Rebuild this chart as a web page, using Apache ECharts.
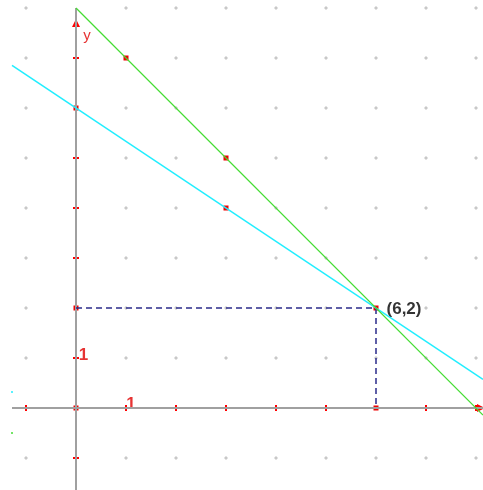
<!DOCTYPE html>
<html>
<head>
<meta charset="utf-8">
<script src="https://cdn.jsdelivr.net/npm/echarts@6/dist/echarts.min.js"></script>
<style>
  html, body { margin: 0; padding: 0; background: #fff; }
  #chart { width: 483px; height: 490px; }
</style>
</head>
<body>
<div id="chart"></div>
<script>
// lines y = 8 - x and y = 6 - 2x/3, meeting at (6,2)
const greenLine = [[0, 8], [8.14, -0.14]];
const cyanLine = [[-1.28, 6.853], [8.14, 0.573]];
const guideLine = [[0, 2], [6, 2], [6, 0]];
const keyPoints = [[1, 7], [3, 5], [0, 6], [3, 4], [0, 2], [6, 2], [6, 0], [0, 0]];
const xTicks = [-1, 1, 2, 3, 4, 5, 7, 8];
const yTicks = [-1, 1, 3, 4, 5, 7];
const xAxisLine = [[-1.28, 0], [8.14, 0]];
const yAxisLine = [[0, -1.64], [0, 8]];
const latticeX = [-1, 1, 2, 3, 4, 5, 6, 7, 8];
const latticeY = [-1, 1, 2, 3, 4, 5, 6, 7, 8];
const labels = [
  [1.1, 0.08, '1', '#e00000'],
  [0.15, 1.06, '1', '#e00000'],
  [0.22, 7.44, 'y', '#e00000'],
  [6.56, 1.98, '(6,2)', '#000000']
];

const lattice = [];
latticeX.forEach(x => latticeY.forEach(y => lattice.push([x, y])));

const dot = (color) => ({ color: color, opacity: 1 });

const chart = echarts.init(document.getElementById('chart'));
chart.setOption({
  animation: false,
  grid: { left: 0, right: 0, top: 0, bottom: 0 },
  xAxis: { type: 'value', min: -1.52, max: 8.14, show: false },
  yAxis: { type: 'value', min: -1.64, max: 8.16, show: false },
  series: [
    {
      type: 'scatter', data: lattice, symbol: 'diamond', symbolSize: 4,
      itemStyle: dot('#c8c8c8'), silent: true
    },
    {
      type: 'line', data: xAxisLine, symbol: 'none',
      lineStyle: { color: '#a0a0a0', width: 2 }
    },
    {
      type: 'line', data: yAxisLine, symbol: 'none',
      lineStyle: { color: '#a0a0a0', width: 2 }
    },
    {
      type: 'scatter', data: xTicks.map(v => [v, 0]), symbol: 'rect', symbolSize: [2, 6],
      itemStyle: dot('#ff0000')
    },
    {
      type: 'scatter', data: yTicks.map(v => [0, v]), symbol: 'rect', symbolSize: [6, 2],
      itemStyle: dot('#ff0000')
    },
    {
      type: 'line', data: guideLine, symbol: 'none',
      lineStyle: { color: '#2a2a8a', width: 1.5, type: [6, 4] }
    },
    {
      type: 'line', data: cyanLine, symbol: 'none',
      lineStyle: { color: '#22eeff', width: 1.5 }
    },
    {
      type: 'line', data: greenLine, symbol: 'none',
      lineStyle: { color: '#44dd33', width: 1.2 }
    },
    {
      type: 'scatter', data: keyPoints, symbol: 'rect', symbolSize: 5,
      itemStyle: dot('#ee0000')
    },
    {
      type: 'scatter', data: [[0, 7.7]], symbol: 'triangle', symbolSize: [8, 8],
      itemStyle: dot('#ff0000')
    },
    {
      type: 'scatter', data: [[8.1, 0]], symbol: 'triangle', symbolSize: [8, 8], symbolRotate: -90,
      itemStyle: dot('#ff0000')
    },
    {
      type: 'scatter', data: [[-1.28, 0.32]], symbolSize: 2, itemStyle: dot('#22eeff')
    },
    {
      type: 'scatter', data: [[-1.28, -0.5]], symbolSize: 2, itemStyle: dot('#44dd33')
    },
    {
      type: 'scatter', symbolSize: 0,
      data: labels.map(l => ({
        value: [l[0], l[1]],
        label: {
          show: true, position: 'inside', formatter: l[2], color: l[3],
          fontFamily: 'Liberation Sans, Arial, sans-serif',
          fontWeight: l[2] === 'y' ? 'normal' : 'bold',
          fontSize: l[2] === 'y' ? 15 : 17
        }
      }))
    }
  ]
});
</script>
</body>
</html>
